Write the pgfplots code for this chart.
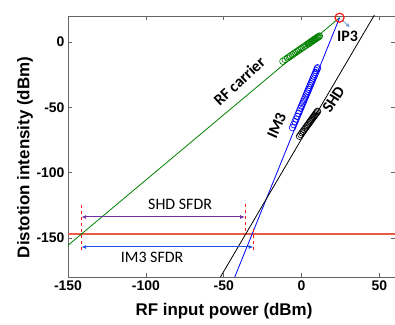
\documentclass[border=0pt]{standalone}
\usepackage{fontspec}
\setmainfont{Liberation Sans}
\newfontfamily\calfont{Carlito}
\usepackage{pgfplots}
\pgfplotsset{compat=1.18}
\usetikzlibrary{arrows.meta}
\definecolor{cgreen}{RGB}{0,128,0}
\definecolor{cblue}{RGB}{0,0,255}
\definecolor{cfloor}{RGB}{235,90,70}
\definecolor{cdash}{RGB}{255,20,20}
\definecolor{cpurple}{RGB}{112,48,160}
\definecolor{carrowblue}{RGB}{30,80,235}
\definecolor{cip}{RGB}{100,150,210}
\definecolor{cframe}{RGB}{100,100,100}
\begin{document}
\begin{tikzpicture}
\path[use as bounding box] (0,0) rectangle (395bp,325bp);
\begin{axis}[
  at={(68bp,48bp)}, anchor=south west,
  width=327bp, height=261bp, scale only axis,
  xmin=-150, xmax=60, ymin=-180, ymax=20,
  xtick={-150,-100,-50,0,50}, ytick={-150,-100,-50,0},
  tick align=inside, major tick length=4bp,
  axis line style={cframe, line width=0.8bp},
  every tick/.style={cframe, line width=0.6bp},
  /pgf/number format/assume math mode=true,
  tick label style={font=\fontsize{14}{16}\selectfont\bfseries},
  xlabel={RF input power (dBm)},
  ylabel={Distotion intensity (dBm)},
  every axis x label/.style={at={(axis description cs:0.477,-0.1456)}, anchor=base, font=\fontsize{17}{19}\selectfont\bfseries},
  every axis y label/.style={at={(axis description cs:-0.1315,0.458)}, rotate=90, anchor=center, font=\fontsize{17}{19}\selectfont\bfseries},
  clip=true,
]
% noise floor
\addplot[draw=cfloor, line width=1.2bp] coordinates {(-150,-147) (60,-147)};
% fitted lines
\addplot[draw=cgreen, line width=0.8bp] coordinates {(-155,-160.7) (24.4,18.7)};
\addplot[draw=cblue, line width=0.8bp] coordinates {(-45,-186.2) (24.4,18.6)};
\addplot[draw=black, line width=0.8bp] coordinates {(-55,-185.9) (50,27.3)};
% measured points
\addplot[only marks, mark=o, mark size=3.3bp, draw=cgreen, mark options={line width=0.6bp}] coordinates {
(-12,-14.64) (-10.5,-13.41) (-9,-12.18) (-8,-11.36) (-7,-10.54) (-6,-9.72) (-5,-8.9) (-4,-8.08)
(-3,-7.26) (-2,-6.44) (-1,-5.62) (0,-4.8) (1,-3.98) (2,-3.16) (3,-2.34) (4,-1.52) (4.5,-1.11)
(5,-0.7) (5.5,-0.29) (6,0.12) (6.5,0.53) (7,0.94) (7.5,1.35) (8,1.76) (8.5,2.17) (9,2.58)
(9.5,2.99) (10,3.4) (10.5,3.81) (11,4.22) (11.5,4.63)};
\addplot[only marks, mark=o, mark size=3.3bp, draw=cblue, mark options={line width=0.6bp}] coordinates {
(-5.8,-65.53) (-5,-63.25) (-4.2,-60.97) (-3.5,-58.98) (-2.8,-56.98) (-2,-54.7) (-1.3,-52.71)
(-0.6,-50.71) (0,-49) (0.6,-47.29) (1.2,-45.58) (1.8,-43.87) (2.4,-42.16) (3,-40.45) (3.5,-39.03)
(4,-37.6) (4.5,-36.18) (5,-34.75) (5.5,-33.33) (6,-31.9) (6.5,-30.48) (7,-29.05) (7.5,-27.63)
(8,-26.2) (8.5,-24.78) (9,-23.35) (9.5,-21.93) (10,-20.5) (10.3,-19.65)};
\addplot[only marks, mark=o, mark size=3.3bp, draw=black, mark options={line width=0.6bp}] coordinates {
(-1.3,-72.15) (-0.5,-70.83) (0.3,-69.51) (1,-68.35) (1.7,-67.2) (2.4,-66.04) (3,-65.05) (3.6,-64.06)
(4.2,-63.07) (4.8,-62.08) (5.4,-61.09) (6,-60.1) (6.5,-59.28) (7,-58.45) (7.5,-57.63) (8,-56.8)
(8.5,-55.98) (9,-55.15) (9.5,-54.33) (10,-53.5) (10.3,-53.0)};
% IP3
\addplot[only marks, mark=o, mark size=4.5bp, draw=cdash, mark options={line width=1.2bp}] coordinates {(24.4,18.7)};
\addplot[draw=cip, line width=0.7bp, -{Latex[open,length=4bp,width=4bp]}] coordinates {(25.8,17.2) (31,11.4)};
% dashed markers
\addplot[draw=cdash, dashed, line width=1bp] coordinates {(-141.5,-125) (-141.5,-161)};
\addplot[draw=cdash, dashed, line width=1bp] coordinates {(-36.3,-124) (-36.3,-146)};
\addplot[draw=cdash, dashed, line width=1bp] coordinates {(-30.8,-143) (-30.8,-159)};
% SFDR arrows
\addplot[draw=cpurple, line width=1bp, {Latex[length=5bp,width=4bp]}-{Latex[length=5bp,width=4bp]}] coordinates {(-141.5,-134) (-36.3,-134)};
\addplot[draw=carrowblue, line width=1bp, {Latex[length=5bp,width=4bp]}-{Latex[length=5bp,width=4bp]}] coordinates {(-141.5,-157) (-30.8,-157)};
% annotations
\node[font=\calfont\fontsize{16}{18}\selectfont] at (axis cs:-78,-124.5) {SHD SFDR};
\node[font=\calfont\fontsize{16}{18}\selectfont] at (axis cs:-96,-165) {IM3 SFDR};
\node[font=\calfont\bfseries\fontsize{16}{18}\selectfont, rotate=43] at (axis cs:-40,-30) {RF carrier};
\node[font=\calfont\bfseries\fontsize{16}{18}\selectfont, rotate=66] at (axis cs:-16,-64) {IM3};
\node[font=\calfont\bfseries\fontsize{16}{18}\selectfont, rotate=57] at (axis cs:20.5,-44) {SHD};
\node[font=\calfont\bfseries\fontsize{16}{18}\selectfont] at (axis cs:29.5,4.5) {IP3};
\end{axis}
\end{tikzpicture}
\end{document}
